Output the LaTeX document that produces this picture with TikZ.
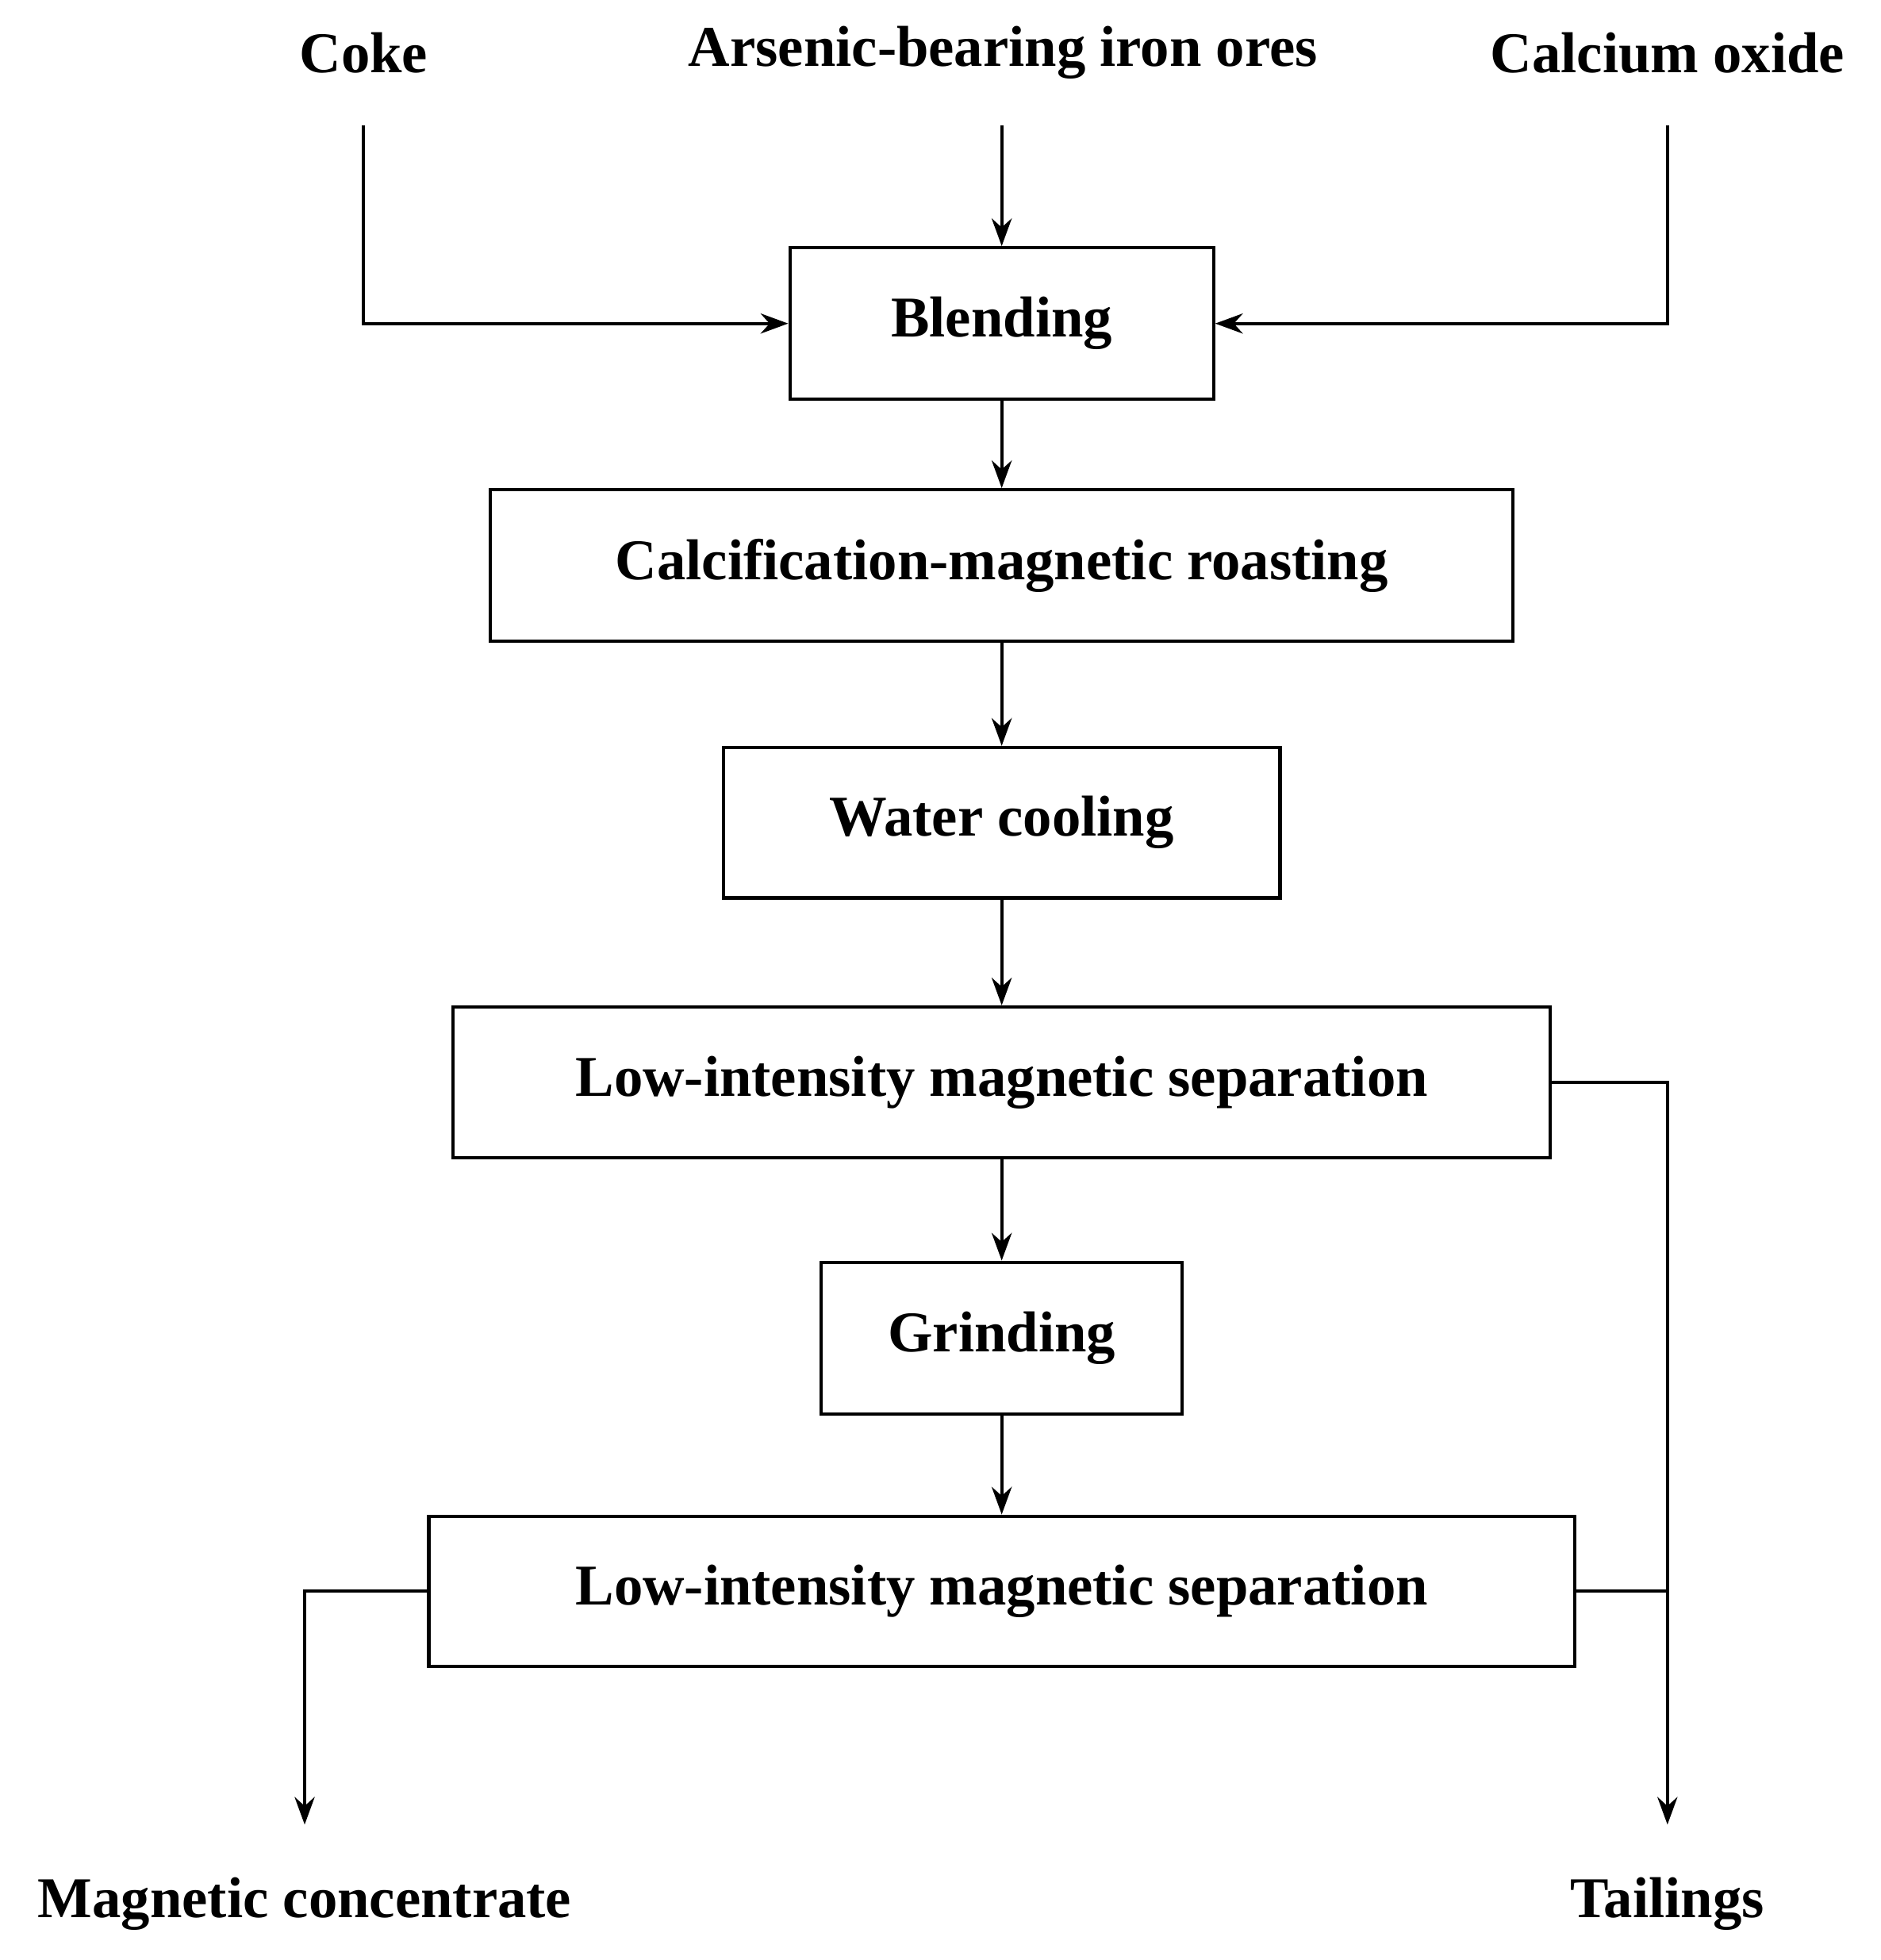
\documentclass[tikz,border=0pt]{standalone}
\usepackage{fontspec}
\setmainfont{TeX Gyre Heros}
\setmainfont{Liberation Serif}
\usetikzlibrary{arrows.meta}
\begin{document}
\begin{tikzpicture}[x=0.5pt,y=-0.5pt,
  box/.style={draw,line width=1.3pt,inner sep=0pt,font=\fontsize{23}{26}\selectfont\bfseries},
  lbl/.style={inner sep=0pt,font=\fontsize{23}{26}\selectfont\bfseries},
  ar/.style={line width=1.3pt,-{Stealth[length=11pt,width=8pt]}},
  ln/.style={line width=1.3pt}]
\useasboundingbox (0,0) rectangle (1500,1563);
\node[lbl] (coke) at (290,42) {Coke};
\node[lbl] (ore) at (800,42) {Arsenic-bearing iron ores};
\node[lbl] (cao) at (1330,42) {Calcium oxide};
\node[box,minimum width=169pt,minimum height=60.5pt] (b) at (799,258) {Blending};
\node[box,minimum width=408pt,minimum height=60.5pt] (c) at (799,451) {Calcification-magnetic roasting};
\node[box,minimum width=222pt,minimum height=60pt] (w) at (799,656) {Water cooling};
\node[box,minimum width=437.5pt,minimum height=60pt] (l1) at (799,863) {Low-intensity magnetic separation};
\node[box,minimum width=144pt,minimum height=60.5pt] (g) at (799,1067) {Grinding};
\node[box,minimum width=457pt,minimum height=60pt] (l2) at (799,1269) {Low-intensity magnetic separation};
\node[lbl] (mc) at (243,1518) {Magnetic concentrate};
\node[lbl] (t) at (1330,1518) {Tailings};
\coordinate (ck) at (290,100);
\coordinate (ot) at (799,100);
\coordinate (ct) at (1330,100);
\coordinate (me) at (243,1455);
\coordinate (te) at (1330,1455);
\coordinate (tj) at (1330,1269);
\draw[ar] (ck) |- (b.west);
\draw[ar] (ct) |- (b.east);
\draw[ar] (ot) -- (b.north);
\draw[ar] (b) -- (c);
\draw[ar] (c) -- (w);
\draw[ar] (w) -- (l1);
\draw[ar] (l1) -- (g);
\draw[ar] (g) -- (l2);
\draw[ar] (l2.west) -| (me);
\draw[ar] (l1.east) -| (te);
\draw[ln] (l2.east) -- (tj);
\end{tikzpicture}
\end{document}
